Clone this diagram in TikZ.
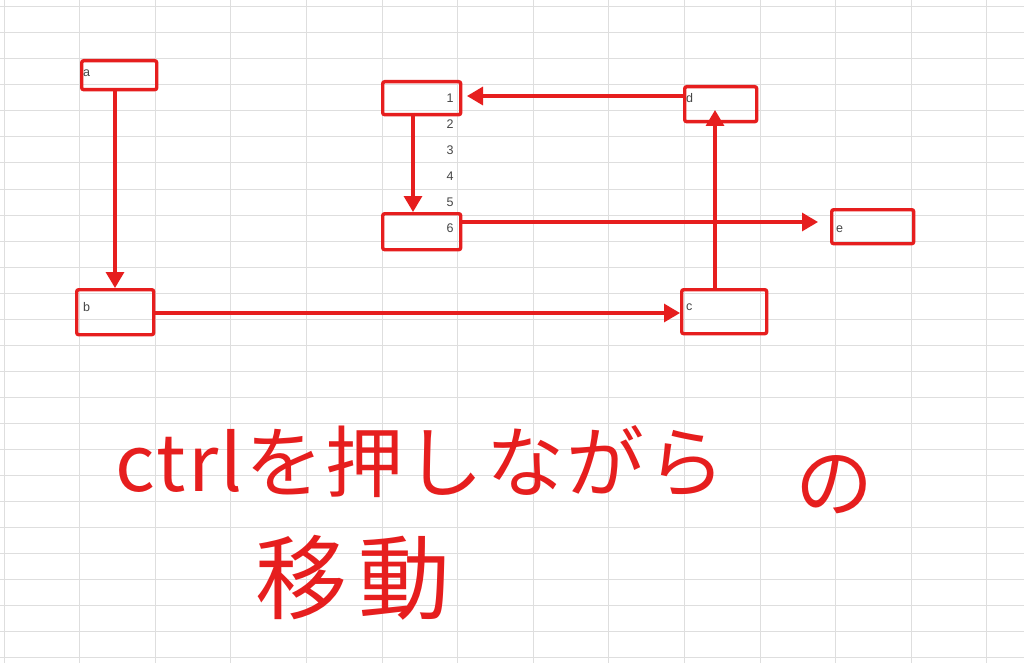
\documentclass[tikz,border=0pt]{standalone}
\usepackage{fontspec}
\setmainfont{Liberation Sans}
\newfontfamily\cjk{Noto Sans CJK JP}[LetterSpace=3]
\newfontfamily\cjkwide{Noto Sans CJK JP}[LetterSpace=12]
\usetikzlibrary{arrows.meta}
\definecolor{pen}{RGB}{230,30,30}
\definecolor{gridc}{RGB}{222,222,222}
\definecolor{lab}{RGB}{70,70,70}
\begin{document}
\begin{tikzpicture}[x=1pt,y=-1pt,
  cell/.style={draw=pen,line width=3.4pt,rounded corners=2pt,inner sep=0pt,anchor=north west},
  lbl/.style={font=\fontsize{12.5}{12.5}\selectfont,text=lab,inner sep=1pt},
  conn/.style={draw=pen,line width=3.2pt,-{Triangle[length=16pt,width=18pt]}},
  hand/.style={text=pen,inner sep=0pt}]
\useasboundingbox (0,0) rectangle (1024,663);
\fill[white] (0,0) rectangle (1024,663);
\foreach \i in {0,...,13} \draw[gridc,line width=1pt] ({4+75.6*\i},0) -- ({4+75.6*\i},663);
\foreach \j in {0,...,25} \draw[gridc,line width=1pt] (0,{7+26*\j}) -- (1024,{7+26*\j});
% boxes
\node[cell,minimum width=75pt,minimum height=29pt] (a) at (80,59) {};
\node[lbl,anchor=west] at (82,73) {a};
\node[cell,minimum width=78pt,minimum height=33pt] (n1) at (381,80) {};
\node[cell,minimum width=72pt,minimum height=35pt] (d) at (683,85) {};
\node[lbl,anchor=west] at (685,98) {d};
\node[cell,minimum width=78pt,minimum height=36pt] (n6) at (381,212) {};
\node[cell,minimum width=82pt,minimum height=34pt] (e) at (830,208) {};
\node[lbl,anchor=west] at (835,229) {e};
\node[cell,minimum width=77pt,minimum height=45pt] (b) at (75,288) {};
\node[lbl,anchor=west] at (82,307) {b};
\node[cell,minimum width=85pt,minimum height=44pt] (c) at (680,288) {};
\node[lbl,anchor=west] at (685,307) {c};
\foreach \k/\y in {1/98,2/124,3/150,4/176,5/202,6/228} \node[lbl] (r\k) at (450,\y) {\k};
% connectors
\draw[conn] (a.south -| 115,0) -- (115,288);
\draw[conn] (413,113) -- (413,212);
\draw[conn] (d.west |- 0,96) -- (467,96);
\draw[conn] (n6.east |- 0,222) -- (818,222);
\draw[conn] (b.east |- 0,313) -- (c.west |- 0,313);
\draw[conn] (c.north -| 715,0) -- (715,110);
% handwriting
\node[hand,anchor=west,font=\cjk\fontsize{78}{78}\selectfont] (t1) at (115,462) {ctrlを押しながら};
\node[hand,anchor=west,font=\cjk\fontsize{78}{78}\selectfont] (t2) at (795,485) {の};
\node[hand,anchor=west,font=\cjkwide\fontsize{92}{92}\selectfont] (t3) at (255,578) {移動};
\end{tikzpicture}
\end{document}
